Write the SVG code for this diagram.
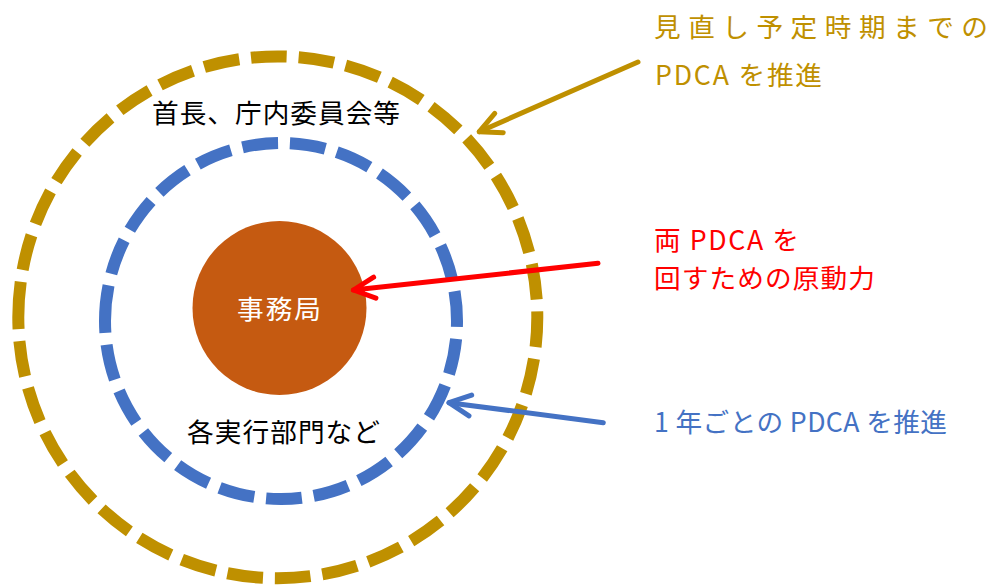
<svg xmlns="http://www.w3.org/2000/svg" width="990" height="585" viewBox="0 0 990 585">
  <style>
    text { font-family: "Noto Sans CJK JP", "Noto Sans", sans-serif; font-size: 26.67px; }
    .ring { fill: none; stroke-width: 12; stroke-dasharray: 36 12; stroke-linecap: butt; }
    .conn { fill: none; stroke-width: 5; stroke-linecap: round; }
    .head { fill: none; stroke-width: 5; stroke-linecap: round; stroke-linejoin: round; }
  </style>
  <defs>
    <marker id="ahGold" markerUnits="userSpaceOnUse" orient="auto" overflow="visible" markerWidth="1" markerHeight="1" refX="0" refY="0">
      <path class="head" d="M-21.5,-10.5 L0,0 L-21.5,10.5" stroke="#BF9000"/>
    </marker>
    <marker id="ahRed" markerUnits="userSpaceOnUse" orient="auto" overflow="visible" markerWidth="1" markerHeight="1" refX="0" refY="0">
      <path class="head" d="M-21.5,-10.5 L0,0 L-21.5,10.5" stroke="#FF0000"/>
    </marker>
    <marker id="ahBlue" markerUnits="userSpaceOnUse" orient="auto" overflow="visible" markerWidth="1" markerHeight="1" refX="0" refY="0">
      <path class="head" d="M-21.5,-10.5 L0,0 L-21.5,10.5" stroke="#4472C4"/>
    </marker>
  </defs>
  <rect width="990" height="585" fill="#FFFFFF"/>

  <g id="outer-ring">
    <path class="ring" stroke="#BF9000" pathLength="1644" d="M18.3,317.3 A259.5,261 0 0 1 537.3,317.3 A259.5,261 0 0 1 18.3,317.3 Z"/>
    <text x="152" y="123" fill="#000000" textLength="248" lengthAdjust="spacing">首長、庁内委員会等</text>
  </g>

  <g id="inner-ring">
    <path class="ring" stroke="#4472C4" pathLength="1116" d="M105,321 A176,178 0 0 1 457,321 A176,178 0 0 1 105,321 Z"/>
    <text x="187" y="441.5" fill="#000000" textLength="193" lengthAdjust="spacing">各実行部門など</text>
  </g>

  <g id="core">
    <circle cx="279.5" cy="308" r="87" fill="#C55A11"/>
    <text x="237" y="319" fill="#FFFFFF" textLength="84" lengthAdjust="spacing">事務局</text>
  </g>

  <g id="connectors">
    <line class="conn" x1="638" y1="62" x2="479.3" y2="131.7" stroke="#BF9000" marker-end="url(#ahGold)"/>
    <line class="conn" x1="598" y1="263.3" x2="353.4" y2="290" stroke="#FF0000" marker-end="url(#ahRed)"/>
    <line class="conn" x1="603.3" y1="422.7" x2="449" y2="402.7" stroke="#4472C4" marker-end="url(#ahBlue)"/>
  </g>

  <g id="label-gold">
    <text x="654" y="36.5" fill="#BF9000" textLength="334" lengthAdjust="spacing">見直し予定時期までの</text>
    <text x="655" y="85" fill="#BF9000" textLength="167" lengthAdjust="spacing">PDCA を推進</text>
  </g>

  <g id="label-red">
    <text x="654" y="250" fill="#FF0000" textLength="145" lengthAdjust="spacing">両 PDCA を</text>
    <text x="654" y="288" fill="#FF0000" textLength="221" lengthAdjust="spacing">回すための原動力</text>
  </g>

  <g id="label-blue">
    <text x="654" y="431.7" fill="#4472C4" textLength="293" lengthAdjust="spacing">1 年ごとの PDCA を推進</text>
  </g>
</svg>
